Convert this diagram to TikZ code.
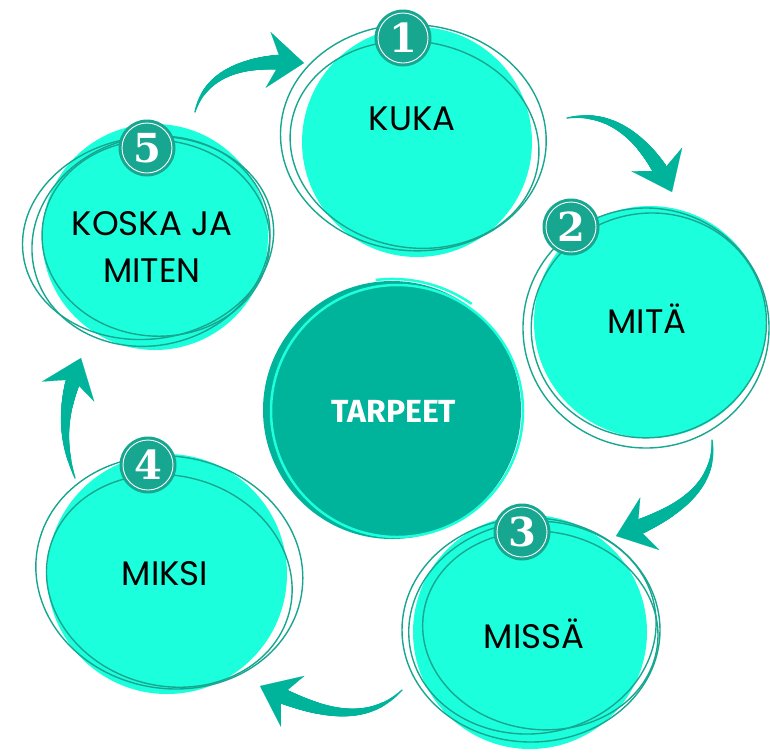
\documentclass[tikz,border=0pt]{standalone}
\usepackage{fontspec}
\usetikzlibrary{arrows.meta, decorations.markings}
\newfontfamily\lblfont{Poppins}
\newfontfamily\numfont{DejaVu Serif}
\newfontfamily\tarfont{Fira Sans}
\definecolor{aqua}{HTML}{1CFFDD}
\definecolor{deepteal}{HTML}{00B39B}
\definecolor{linet}{HTML}{17A690}
\definecolor{cyanline}{HTML}{1EFFDC}
\tikzset{
  blob/.style={circle, fill=aqua, draw=none, inner sep=0pt},
  sketch/.style={draw=linet, line width=1.4pt},
  badge/.style={circle, fill=linet, minimum size=57pt, inner sep=0pt, text=white,
    font=\numfont\bfseries\fontsize{40}{40}\selectfont},
  ring/.style={draw=white, line width=0.9pt},
  lbl/.style={font=\lblfont\fontsize{34}{47}\selectfont, text=black, anchor=base},
  taper/.style={decorate, decoration={markings,
    mark=between positions 0 and -26pt step 0.6pt with {%
      \pgfmathsetmacro\rr{0.7+8.3*(\pgfkeysvalueof{/pgf/decoration/mark info/distance from start})/(\pgfdecoratedpathlength)}%
      \fill[deepteal] (0,0) circle (\rr pt);}}},
  arr/.style={draw=deepteal, line width=0.1pt,
    -{Stealth[length=36pt, width=56pt, inset=13pt]}},
}
\newcommand\taparrow[3]{%
  \path[taper] (#1) to[#2] (#3);
  \draw[arr] (#1) to[#2] (#3);
}
\begin{document}
\begin{tikzpicture}[x=1pt, y=1pt]
\useasboundingbox (0,0) rectangle (770,-753);

% light circles (fills)
\node[blob, minimum size=230pt] (c1) at (417,-142) {};
\node[blob, minimum size=232pt] (c2) at (650,-322) {};
\node[blob, minimum size=234pt] (c3) at (530,-632) {};
\node[blob, minimum size=240pt] (c4) at (167,-574) {};
\node[blob, minimum size=226pt] (c5) at (155,-237) {};

% sketchy outlines
\draw[sketch, shift={(c1.center)}, rotate=-5]  (-4,4)  ellipse (133pt and 113pt);
\draw[sketch, shift={(c1.center)}, rotate=-10] (-2,-3) ellipse (125pt and 103pt);
\draw[sketch, shift={(c2.center)}, rotate=0]   (-4,-6) ellipse (123pt and 120pt);
\draw[sketch, shift={(c2.center)}, rotate=15]  (-2,-3) ellipse (118pt and 112pt);
\draw[sketch, shift={(c3.center)}, rotate=0]   (1,2)   ellipse (129pt and 112pt);
\draw[sketch, shift={(c3.center)}, rotate=-8]  (10,3)  ellipse (118pt and 99pt);
\draw[sketch, shift={(c3.center)}, rotate=8]   (3,4)   ellipse (124pt and 106pt);
\draw[sketch, shift={(c4.center)}, rotate=-10] (2,2)   ellipse (134pt and 116pt);
\draw[sketch, shift={(c4.center)}, rotate=-15] (4,-6)  ellipse (124pt and 105pt);
\draw[sketch, shift={(c5.center)}, rotate=8]   (-7,0)  ellipse (126pt and 101pt);
\draw[sketch, shift={(c5.center)}, rotate=-5]  (1,-1)  ellipse (114pt and 98pt);
\draw[sketch, shift={(c5.center)}, rotate=15]  (-5,-3) ellipse (120pt and 104pt);

% central circle
\node[circle, fill=deepteal, minimum size=258pt, inner sep=0pt] (c0) at (392,-410) {};
\draw[cyanline, line width=2.5pt] ([shift={(5,-1)}]c0.center) circle (126pt);
\draw[cyanline, line width=2.5pt] ([shift={(0,-3)}]c0.center) ++(97:134pt) arc (97:55:138pt);

% badges
\foreach \n/\p in {1/{(403,-38)}, 2/{(571,-227)}, 3/{(522,-532)}, 4/{(148,-465)}, 5/{(147,-148)}}{
  \node[badge] (b\n) at \p {\n};
  \draw[ring] (b\n.center) circle (25pt);
}

% labels
\node[lbl] (l1) at (412,-130) {KUKA};
\node[lbl] (l2) at (647,-333) {MITÄ};
\node[lbl] (l3) at (534,-648) {MISSÄ};
\node[lbl] (l4) at (165,-585) {MIKSI};
\node[lbl] (l5a) at (152,-235) {KOSKA JA};
\node[lbl] (l5b) at (152,-282) {MITEN};
\node[font=\tarfont\bfseries\fontsize{32}{32}\selectfont, text=white, anchor=base] (l0) at (394,-422) {TARPEET};

% arrows
\coordinate (a1s) at (195,-112); \coordinate (a1e) at (304,-63);
\coordinate (a2s) at (567,-118); \coordinate (a2e) at (672,-192);
\coordinate (a3s) at (712,-440); \coordinate (a3e) at (616,-536);
\coordinate (a4s) at (402,-690); \coordinate (a4e) at (260,-686);
\coordinate (a5s) at (75,-478);  \coordinate (a5e) at (81,-358);
\taparrow{a1s}{out=75, in=175}{a1e}
\taparrow{a2s}{out=10, in=115}{a2e}
\taparrow{a3s}{out=-85, in=20}{a3e}
\taparrow{a4s}{out=-135, in=-25}{a4e}
\taparrow{a5s}{out=110, in=-111}{a5e}
\end{tikzpicture}
\end{document}
